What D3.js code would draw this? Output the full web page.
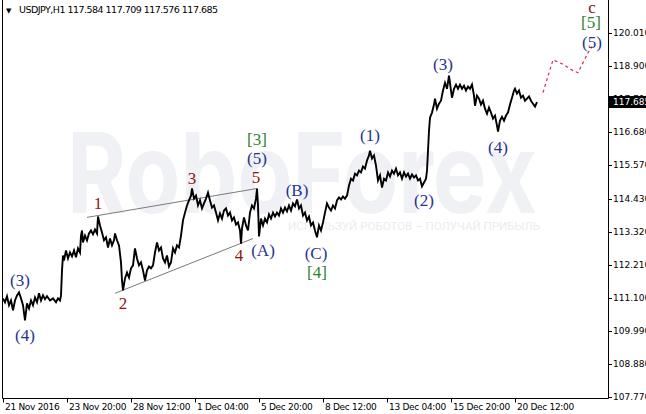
<!DOCTYPE html>
<html><head><meta charset="utf-8">
<script src="https://cdn.jsdelivr.net/npm/d3@7"></script>
<style>html,body{margin:0;padding:0;background:#fff;overflow:hidden}</style>
</head><body>
<svg id="chart" width="646" height="414"></svg>
<script>
// ---------- data ----------
const symbolName = "USDJPY,H1";
const headerOHLC = ["117.584", "117.709", "117.576", "117.685"];
const lastPrice = 117.685;
const priceTicks = [107.770, 108.880, 109.990, 111.100, 112.210, 113.320, 114.430, 115.570, 116.680, 117.790, 118.900, 120.010];
const timeTickBars = [0, 64, 128, 192, 256, 320, 384, 448, 512];
const timeTickLabels = ["21 Nov 2016", "23 Nov 20:00", "28 Nov 12:00", "1 Dec 04:00", "5 Dec 20:00", "8 Dec 12:00", "13 Dec 04:00", "15 Dec 20:00", "20 Dec 12:00"];

// [bar index, price]
const hourlyPrice = [[0,111.09],[2,110.96],[4,111.16],[6,110.86],[8,111.02],[10,110.69],[12,111.02],[14,111.19],[16,111.29],[18,111.09],[20,110.86],[22,110.35],[24,110.92],[26,110.75],[28,111.02],[30,110.86],[32,111.12],[34,110.96],[36,111.26],[38,111.02],[40,111.19],[42,111.06],[44,111.16],[47,111.02],[50,111.09],[53,110.96],[55,111.09],[57,111.02],[58,111.19],[59,112.03],[60,112.53],[61,112.36],[63,112.70],[65,112.43],[67,112.63],[69,112.50],[71,112.70],[73,112.47],[75,112.77],[77,112.63],[78,113.20],[79,113.37],[80,112.97],[82,113.20],[84,113.04],[86,113.27],[88,113.37],[90,113.24],[92,113.40],[94,113.27],[95,113.84],[97,113.54],[99,113.30],[101,113.04],[103,113.14],[105,112.80],[107,113.10],[109,112.87],[111,113.04],[112,113.27],[114,113.04],[116,112.87],[118,112.30],[119,111.69],[120,111.36],[122,111.76],[124,111.96],[126,111.79],[128,112.10],[130,112.20],[132,112.77],[134,112.43],[136,112.20],[138,112.30],[140,112.03],[142,111.69],[144,112.03],[146,112.16],[148,112.10],[150,112.20],[152,112.63],[154,112.97],[156,112.70],[158,112.80],[160,112.43],[162,112.30],[164,112.53],[166,112.16],[168,112.30],[170,112.77],[172,112.63],[174,112.87],[176,112.80],[178,113.20],[180,113.71],[182,113.97],[184,114.21],[186,114.38],[188,114.54],[189,114.78],[191,114.44],[193,114.54],[195,114.21],[197,114.38],[199,114.11],[201,114.28],[203,114.44],[205,114.64],[207,114.38],[209,114.14],[211,114.21],[213,113.97],[215,113.71],[217,113.94],[219,113.77],[221,114.04],[223,114.11],[225,113.87],[227,113.97],[229,113.71],[231,113.81],[233,113.57],[235,113.64],[237,113.37],[238,112.93],[239,113.44],[241,113.81],[243,113.54],[245,113.37],[247,113.97],[249,114.21],[251,114.11],[253,114.44],[254,114.78],[255,114.21],[256,113.17],[258,113.77],[260,113.54],[262,113.77],[264,113.64],[266,113.91],[268,113.77],[270,113.97],[272,113.84],[274,113.97],[276,113.87],[278,114.11],[280,113.97],[282,114.14],[284,114.01],[286,114.21],[288,114.04],[290,114.28],[292,114.18],[294,114.41],[296,114.11],[298,114.21],[300,113.87],[302,113.97],[304,113.71],[306,113.84],[308,113.54],[310,113.64],[312,113.37],[314,113.14],[316,113.54],[318,113.37],[320,113.64],[322,113.97],[324,114.28],[326,114.14],[328,114.04],[330,114.21],[332,114.11],[334,114.38],[336,114.48],[338,114.41],[340,114.51],[342,114.44],[344,114.54],[346,114.88],[348,115.11],[350,115.05],[352,115.28],[354,115.22],[356,115.38],[358,115.32],[360,115.52],[362,115.45],[364,115.72],[366,115.89],[367,116.05],[369,115.79],[371,115.89],[373,115.55],[375,115.05],[377,115.22],[379,114.81],[381,115.11],[383,115.05],[385,115.32],[387,115.18],[389,115.38],[391,115.28],[393,115.45],[395,115.22],[397,115.32],[399,115.11],[401,115.32],[403,115.18],[405,115.28],[407,115.11],[409,115.25],[411,115.15],[413,115.22],[415,115.05],[417,115.11],[419,114.85],[421,114.98],[423,115.11],[424,115.38],[425,116.05],[426,116.72],[427,117.16],[429,117.33],[431,117.60],[432,117.80],[434,117.46],[436,117.63],[438,117.73],[440,118.07],[442,118.33],[444,118.13],[446,118.57],[448,118.07],[449,117.83],[451,118.13],[453,118.27],[455,118.13],[457,118.27],[459,118.13],[461,118.23],[463,118.07],[465,118.20],[467,118.13],[469,118.27],[471,117.90],[472,117.56],[474,117.90],[476,117.80],[478,117.60],[480,117.73],[482,117.46],[484,117.29],[486,117.50],[488,117.33],[490,117.13],[492,117.23],[494,116.89],[495,116.69],[497,117.06],[499,117.19],[501,117.06],[503,117.23],[505,117.33],[507,117.60],[509,117.83],[511,118.07],[512,118.13],[514,117.97],[516,118.07],[518,117.83],[520,117.90],[522,117.73],[524,117.80],[526,117.87],[528,117.73],[530,117.63],[532,117.53],[534,117.685]];

const forecastPath = [[540,118.00],[550,119.10],[559,118.97],[570,118.74],[575,118.67],[585,119.34],[589,119.55]];
const upperTrend = [[84,113.81],[254,114.78]];
const lowerTrend = [[112,111.26],[250,113.10]];

const waveLabels = ["(3)","(4)","1","2","3","4","5","(5)","[3]","(A)","(B)","(C)","[4]","(1)","(2)","(3)","(4)","c","[5]","(5)"];
const waveBars   = [17, 22, 95, 120, 189, 236, 253, 254, 254, 260, 294, 313, 314, 367, 421, 440, 495, 589, 588, 589];
const wavePrices = [111.69,109.85,114.28,110.92,115.11,112.53,115.15,115.79,116.42,112.70,114.71,112.60,111.96,116.56,114.38,118.94,116.15,120.85,120.35,119.68];
const waveDegree = ["minor","minor","sub","sub","sub","sub","sub","minor","inter","minor","minor","minor","inter","minor","minor","minor","minor","major","inter","minor"];

// ---------- drawing ----------
const degreeColor = {minor:"#27338f", sub:"#8e1414", inter:"#2e8130", major:"#8e1414"};
const svg = d3.select("#chart");
const x = d3.scaleLinear().domain([0, 605]).range([3, 608]);
const y = d3.scaleLinear().domain([107.77, 120.01]).range([397.2, 32.8]);
const plotL = 2.5, plotR = 608.5, plotB = 398.5;

// watermark
svg.append("text").attr("x", 67).attr("y", 213).attr("textLength", 470).attr("lengthAdjust", "spacingAndGlyphs")
  .attr("font-family", "Inter, 'Open Sans', sans-serif").attr("font-weight", 700).attr("font-size", 112)
  .attr("fill", "#eff1f5").text("RoboForex");
svg.append("text").attr("x", 288).attr("y", 230).attr("textLength", 252).attr("lengthAdjust", "spacingAndGlyphs")
  .attr("font-family", "Roboto, sans-serif").attr("font-size", 11)
  .attr("fill", "#e9ecf1").text("ИСПОЛЬЗУЙ РОБОТОВ – ПОЛУЧАЙ ПРИБЫЛЬ");

// trend lines
const line = d3.line().x(d => x(d[0])).y(d => y(d[1]));
[upperTrend, lowerTrend].forEach(t => svg.append("path").attr("d", line(t))
  .attr("fill", "none").attr("stroke", "#7a7a7a").attr("stroke-width", 1));

// price series
svg.append("path").attr("d", line(hourlyPrice)).attr("fill", "none")
  .attr("stroke", "#000").attr("stroke-width", 1.9).attr("stroke-linejoin", "miter");

// forecast
svg.append("path").attr("d", line(forecastPath)).attr("fill", "none")
  .attr("stroke", "#e0264a").attr("stroke-width", 1.2).attr("stroke-dasharray", "3,3");

// wave labels
svg.append("g").selectAll("text").data(waveLabels).join("text")
  .attr("x", (d, i) => x(waveBars[i])).attr("y", (d, i) => y(wavePrices[i]))
  .attr("text-anchor", "middle").attr("dominant-baseline", "central")
  .attr("font-family", "'Liberation Serif', serif").attr("font-size", 17)
  .attr("fill", (d, i) => degreeColor[waveDegree[i]]).text(d => d);

// frame
svg.append("path").attr("d", `M${plotL},0V${plotB}H${plotR}V0`).attr("fill", "none").attr("stroke", "#000").attr("stroke-width", 1);

// y axis
const yg = svg.append("g").attr("font-family", "'DejaVu Sans', sans-serif").attr("font-size", 9).attr("fill", "#000");
priceTicks.forEach(p => {
  yg.append("line").attr("x1", plotR).attr("x2", plotR + 3.5).attr("y1", Math.round(y(p)) + 0.5).attr("y2", Math.round(y(p)) + 0.5).attr("stroke", "#000");
  yg.append("text").attr("x", 613).attr("y", y(p)).attr("dominant-baseline", "central").text(p.toFixed(3));
});
// last price marker
const ly = y(lastPrice);
svg.append("rect").attr("x", plotR + 0.5).attr("y", ly - 6).attr("width", 40).attr("height", 12).attr("fill", "#000");
svg.append("text").attr("x", 613).attr("y", ly).attr("dominant-baseline", "central")
  .attr("font-family", "'DejaVu Sans', sans-serif").attr("font-size", 9).attr("fill", "#fff").text(lastPrice.toFixed(3));

// x axis
const xg = svg.append("g").attr("font-family", "'DejaVu Sans', sans-serif").attr("font-size", 9)
  .attr("letter-spacing", -0.3).attr("fill", "#000");
timeTickBars.forEach((b, i) => {
  const tx = Math.round(x(b)) + 0.5;
  xg.append("line").attr("x1", tx).attr("x2", tx).attr("y1", plotB).attr("y2", plotB + 4).attr("stroke", "#000");
  xg.append("text").attr("x", tx + 1.5).attr("y", 410).text(timeTickLabels[i]);
});

// header
svg.append("text").attr("x", 6).attr("y", 12.5).attr("font-size", 7).attr("font-family", "'DejaVu Sans', sans-serif").attr("fill", "#000").text("▼");
svg.append("text").attr("x", 19).attr("y", 13).attr("font-family", "'DejaVu Sans', sans-serif").attr("font-size", 9.5)
  .attr("fill", "#000").attr("textLength", 199).attr("lengthAdjust", "spacing")
  .text(symbolName + "  " + headerOHLC.join(" "));
</script>
</body></html>
